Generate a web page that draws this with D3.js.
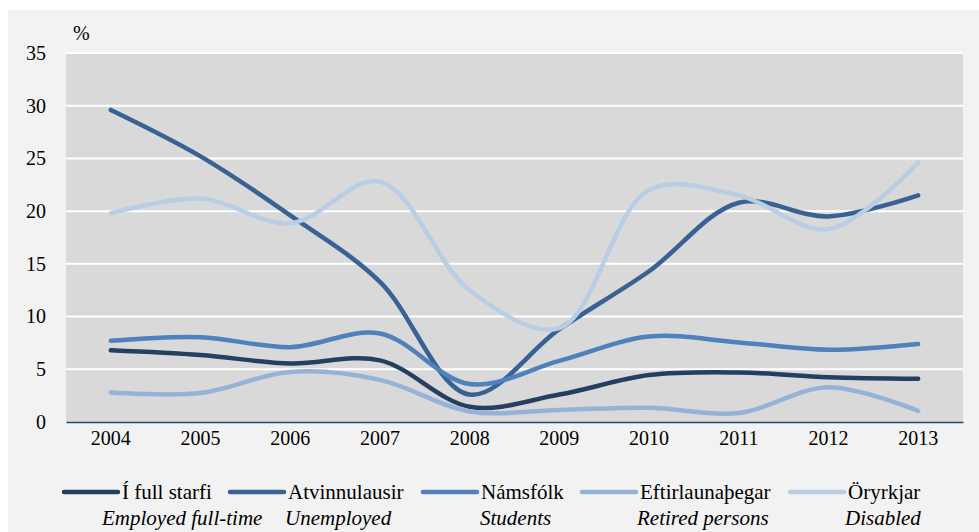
<!DOCTYPE html>
<html>
<head>
<meta charset="utf-8">
<script src="https://cdn.jsdelivr.net/npm/d3@7"></script>
<style>
  body { margin: 0; background: #fff; }
  svg text { font-family: "Liberation Serif", "Times New Roman", serif; fill: #000; }
</style>
</head>
<body>
<svg id="chart" width="979" height="532"></svg>
<script>
// data
const years = ['2004', '2005', '2006', '2007', '2008', '2009', '2010', '2011', '2012', '2013'];
const yTicks = [0, 5, 10, 15, 20, 25, 30, 35];

const fullTime   = [6.8, 6.35, 5.55, 5.85, 1.45, 2.6, 4.45, 4.7, 4.25, 4.1];
const unemployed = [29.6, 25.2, 19.6, 13.3, 2.6, 8.8, 14.3, 20.8, 19.5, 21.5];
const students   = [7.7, 8.05, 7.1, 8.4, 3.6, 5.8, 8.1, 7.55, 6.85, 7.4];
const retired    = [2.8, 2.75, 4.75, 4.0, 1.0, 1.15, 1.35, 0.85, 3.3, 1.05];
const disabled   = [19.8, 21.2, 18.85, 22.8, 12.5, 8.9, 22.0, 21.5, 18.3, 24.6];

const seriesNames   = ['Í full starfi', 'Atvinnulausir', 'Námsfólk', 'Eftirlaunaþegar', 'Öryrkjar'];
const seriesNamesEn = ['Employed full-time', 'Unemployed', 'Students', 'Retired persons', 'Disabled'];
const seriesValues  = [fullTime, unemployed, students, retired, disabled];
const colors = ['#243f60', '#386194', '#4f81bd', '#95b3d7', '#b9cde5'];

const svg = d3.select('#chart');

// chart frame
svg.append('rect')
  .attr('x', 8).attr('y', 10)
  .attr('width', 971).attr('height', 522)
  .attr('fill', '#f2f2f2');

const margin = {left: 66, top: 53, right: 16, bottom: 110};
const width = 979 - margin.left - margin.right;
const height = 532 - margin.top - margin.bottom;

const g = svg.append('g').attr('transform', `translate(${margin.left},${margin.top})`);

const x = d3.scaleBand().domain(years).range([0, width]);
const y = d3.scaleLinear().domain([0, 35]).range([height, 0]);

g.append('rect')
  .attr('width', width).attr('height', height)
  .attr('fill', '#d9d9d9');

// gridlines
g.selectAll('.grid')
  .data(yTicks.filter(d => d > 0))
  .enter()
  .append('line')
  .attr('x1', 0).attr('x2', width)
  .attr('y1', d => y(d)).attr('y2', d => y(d))
  .attr('stroke', '#fff')
  .attr('stroke-width', 2);

// y axis labels
const yAxis = d3.axisLeft(y).tickValues(yTicks).tickSize(0).tickPadding(20);
g.append('g')
  .call(yAxis)
  .call(a => a.select('.domain').remove())
  .selectAll('text')
  .style('font-size', '20px');

// x axis
const xAxis = d3.axisBottom(x).tickSize(0).tickPadding(9);
g.append('g')
  .attr('transform', `translate(0,${height})`)
  .call(xAxis)
  .call(a => a.select('.domain').attr('stroke', '#1f497d').attr('stroke-width', 1.3))
  .selectAll('text')
  .style('font-size', '20px');

g.selectAll('.tick text').attr('fill', '#000');

svg.append('text')
  .attr('x', 73).attr('y', 40)
  .style('font-size', '20px')
  .text('%');

// lines
const line = d3.line()
  .x((d, i) => x(years[i]) + x.bandwidth() / 2)
  .y(d => y(d))
  .curve(d3.curveCatmullRom.alpha(0.5));

g.selectAll('.series')
  .data(seriesValues)
  .enter()
  .append('path')
  .attr('d', d => line(d))
  .attr('fill', 'none')
  .attr('stroke', (d, i) => colors[i])
  .attr('stroke-width', 4.5)
  .attr('stroke-linecap', 'round')
  .attr('stroke-linejoin', 'round');

// legend
const legendX = [64, 230, 423, 582, 790];
const legendEnX = [102, 285, 480, 637, 845];
const legend = svg.append('g');

seriesNames.forEach((name, i) => {
  legend.append('line')
    .attr('x1', legendX[i]).attr('x2', legendX[i] + 54)
    .attr('y1', 492).attr('y2', 492)
    .attr('stroke', colors[i])
    .attr('stroke-width', 4.5)
    .attr('stroke-linecap', 'round');
  legend.append('text')
    .attr('x', legendX[i] + 58).attr('y', 499)
    .style('font-size', '21px')
    .text(name);
  legend.append('text')
    .attr('x', legendEnX[i]).attr('y', 525)
    .style('font-size', '21px')
    .style('font-style', 'italic')
    .text(seriesNamesEn[i]);
});
</script>
</body>
</html>
